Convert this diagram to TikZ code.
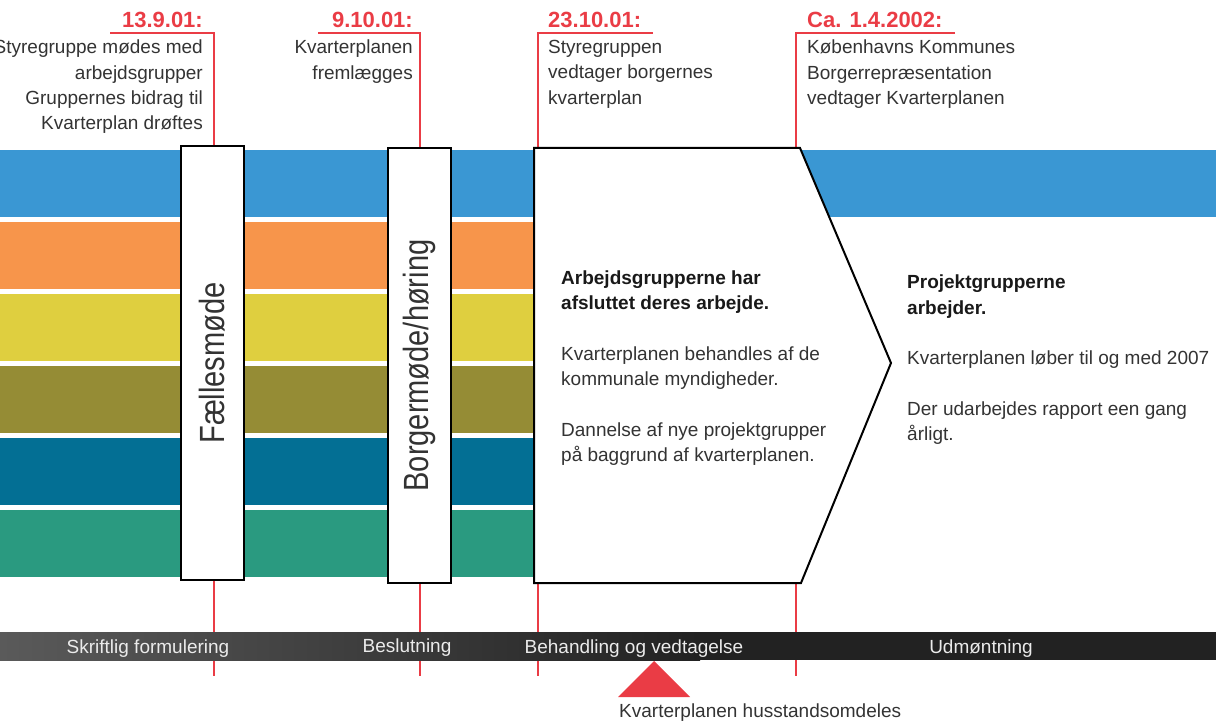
\documentclass[tikz,border=0pt]{standalone}
\usepackage{fontspec}
\setmainfont{Liberation Sans}
\newfontfamily\narrowfont{Liberation Sans}[FakeStretch=0.83]
\usepackage{xcolor}
\usetikzlibrary{positioning}
\definecolor{bandblue}{HTML}{3A97D3}
\definecolor{bandorange}{HTML}{F7954B}
\definecolor{bandyellow}{HTML}{DFCF3F}
\definecolor{bandolive}{HTML}{958C35}
\definecolor{bandteal}{HTML}{036F94}
\definecolor{bandgreen}{HTML}{2A9A80}
\definecolor{markred}{HTML}{EA3C45}
\definecolor{textgrey}{HTML}{333333}
\definecolor{barlight}{HTML}{5A5A5A}
\definecolor{bardark}{HTML}{222222}
\newcommand\eventfont{\fontsize{19}{25.3}\selectfont}
\newcommand\datefont{\fontsize{22}{26}\selectfont\bfseries}
\newcommand\phasefont{\narrowfont\fontsize{35}{40}\selectfont}
\tikzset{
    markline/.style={draw=markred, line width=2pt},
    phasebox/.style={rectangle, draw=black, line width=2.5pt, fill=white, rotate=90, minimum width=434pt, minimum height=63pt, inner sep=0pt, font=\phasefont, text=textgrey},
    phasearrow/.style={draw=black, line width=2pt, fill=white, line join=miter},
    datelabel/.style={font=\datefont, text=markred, inner sep=0pt},
    eventtext/.style={font=\eventfont, text=textgrey, inner sep=0pt},
    barlabel/.style={font=\eventfont, text=white!92!black, inner sep=0pt}
}

\begin{document}
\begin{tikzpicture}[x=1pt, y=-1pt]
\useasboundingbox (0,0) rectangle (1216,722);

% timeline marks
\foreach \xm/\xe in {214/110, 420/318, 538/653, 796/955}
    \draw[markline] (\xe,33) -- (\xm,33) -- (\xm,676);

% coloured bands
\fill[bandblue] (0,150) rectangle (1216,216.7);
\foreach \yt/\col in {222/bandorange, 294/bandyellow, 366/bandolive, 438/bandteal, 510/bandgreen}
    \fill[\col] (0,\yt) rectangle (560,\yt+66.7);

% meetings
\node[phasebox] (faelles) at (212.5,363) {Fællesmøde};
\node[phasebox, minimum width=435pt] (borger) at (419.5,365.5) {Borgermøde/høring};

% big arrow
\draw[phasearrow] (534,148) -- (800,148) -- (891,363) -- (801,583) -- (534,583) -- cycle;

% dates and events
\node[datelabel, anchor=base east] (d1) at (203,28) {13.9.01:};
\node[eventtext, below=12pt of d1.base east, anchor=north east, align=right] (e1) {Styregruppe mødes med\\arbejdsgrupper\\Gruppernes bidrag til\\Kvarterplan drøftes};
\node[datelabel, anchor=base east] (d2) at (413,28) {9.10.01:};
\node[eventtext, below=12pt of d2.base east, anchor=north east, align=right] (e2) {Kvarterplanen\\fremlægges};
\node[datelabel, anchor=base west] (d3) at (548,28) {23.10.01:};
\node[eventtext, below=12pt of d3.base west, anchor=north west, align=left] (e3) {Styregruppen\\vedtager borgernes\\kvarterplan};
\node[datelabel, anchor=base west] (d4) at (807,28) {Ca. 1.4.2002:};
\node[eventtext, below=12pt of d4.base west, anchor=north west, align=left] (e4) {Københavns Kommunes\\Borgerrepræsentation\\vedtager Kvarterplanen};

% texts in the arrow and after it
\node[eventtext, anchor=north west, align=left] (behandl) at (561,270.7)
    {{\bfseries\color{black!90}Arbejdsgrupperne har}\\{\bfseries\color{black!90}afsluttet deres arbejde.}\\[25.3pt]Kvarterplanen behandles af de\\kommunale myndigheder.\\[25.3pt]Dannelse af nye projektgrupper\\på baggrund af kvarterplanen.};
\node[eventtext, anchor=north west, align=left] (projekt) at (907,274.8)
    {{\bfseries\color{black!90}Projektgrupperne}\\{\bfseries\color{black!90}arbejder.}\\[25.3pt]Kvarterplanen løber til og med 2007\\[25.3pt]Der udarbejdes rapport een gang\\årligt.};

% phase bar
\shade[left color=barlight, right color=bardark] (0,632) rectangle (700,660);
\fill[bardark] (699.5,632) rectangle (1216,660);
\node[barlabel, anchor=base] (p1) at (148,653) {Skriftlig formulering};
\node[barlabel, anchor=base] (p2) at (407,652) {Beslutning};
\node[barlabel, anchor=base] (p3) at (634,653) {Behandling og vedtagelse};
\node[barlabel, anchor=base] (p4) at (981,653) {Udmøntning};

% distribution marker
\fill[markred] (618,697) -- (654,661) -- (690,697) -- cycle;
\node[eventtext, anchor=base west] (husst) at (619,717) {Kvarterplanen husstandsomdeles};
\end{tikzpicture}
\end{document}
